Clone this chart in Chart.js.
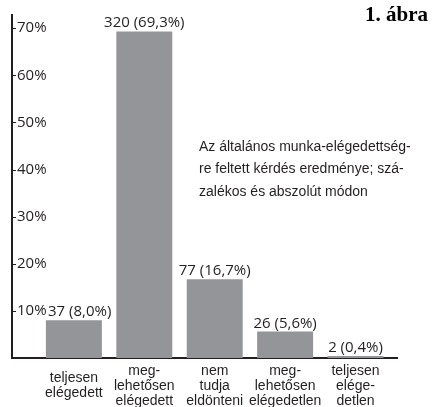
<!DOCTYPE html>
<html><head><meta charset="utf-8">
<script src="https://cdn.jsdelivr.net/npm/chart.js@4"></script>
<style>html,body{margin:0;padding:0;background:#fff}</style>
</head><body><canvas id="c" width="437" height="407"></canvas>
<script>
const categories = [
  ['teljesen', 'elégedett'],
  ['meg-', 'lehetősen', 'elégedett'],
  ['nem', 'tudja', 'eldönteni'],
  ['meg-', 'lehetősen', 'elégedetlen'],
  ['teljesen', 'elége-', 'detlen']
];
const counts = [37, 320, 77, 26, 2];
const percents = [8.0, 69.3, 16.7, 5.6, 0.4];
const yTickValues = [10, 20, 30, 40, 50, 60, 70];
const figureTitle = '1. ábra';
const noteLines = [
  'Az általános munka-elégedettség-',
  're feltett kérdés eredménye; szá-',
  'zalékos és abszolút módon'
];

const INK = '#231f20';
const BAR = '#939598';

const extraText = {
  id: 'extraText',
  afterDatasetsDraw(chart) {
    const ctx = chart.ctx;
    const meta = chart.getDatasetMeta(0);
    const ys = chart.scales.y;
    const area = chart.chartArea;
    ctx.save();
    // y tick marks (inside)
    ctx.strokeStyle = INK;
    ctx.lineWidth = 1;
    yTickValues.forEach(v => {
      const y = Math.round(ys.getPixelForValue(v)) + 0.5;
      ctx.beginPath();
      ctx.moveTo(area.left, y);
      ctx.lineTo(area.left + 4, y);
      ctx.stroke();
    });
    // data labels (kept clear of the y tick labels)
    ctx.fillStyle = INK;
    ctx.font = '15px "Open Sans"';
    ctx.textAlign = 'left';
    ctx.textBaseline = 'alphabetic';
    meta.data.forEach((el, i) => {
      const txt = counts[i] + ' (' + percents[i].toFixed(1).replace('.', ',') + '%)';
      const w = ctx.measureText(txt).width;
      const left = Math.max(el.x - w / 2, area.left + 36);
      ctx.fillText(txt, left, el.y - 4);
    });
    // note
    ctx.font = '14px "Liberation Sans"';
    ctx.textAlign = 'left';
    ctx.textBaseline = 'middle';
    noteLines.forEach((t, i) => ctx.fillText(t, 199, 147 + i * 22.5));
    // figure title
    ctx.font = 'bold 21px "Liberation Serif"';
    ctx.textAlign = 'right';
    ctx.fillStyle = '#000';
    ctx.fillText(figureTitle, 428, 16);
    ctx.restore();
  }
};

new Chart(document.getElementById('c'), {
  type: 'bar',
  data: {
    datasets: [{
      data: percents.map((p, i) => ({ x: i, y: p })),
      backgroundColor: BAR,
      borderWidth: 0,
      barPercentage: 0.795,
      categoryPercentage: 1.0
    }]
  },
  options: {
    responsive: false,
    animation: false,
    devicePixelRatio: 1,
    layout: { padding: { left: 10, right: 40, top: 15, bottom: 0 } },
    plugins: { legend: { display: false }, tooltip: { enabled: false }, title: { display: false } },
    scales: {
      x: {
        type: 'linear',
        min: -0.879,
        max: 4.589,
        offset: false,
        grid: { display: false, drawTicks: false },
        border: { display: true, color: INK, width: 2 },
        afterBuildTicks: s => { s.ticks = categories.map((c, i) => ({ value: i })); },
        afterFit: s => { s.height = 49; },
        ticks: {
          autoSkip: false,
          maxRotation: 0,
          minRotation: 0,
          padding: 13,
          crossAlign: 'center',
          color: INK,
          font: { family: '"Liberation Sans"', size: 14, lineHeight: 1.07 },
          callback: v => categories[v] || ''
        }
      },
      y: {
        min: 0,
        max: 72.8,
        grid: { display: false, drawTicks: false },
        border: { display: true, color: INK, width: 2 },
        afterBuildTicks: s => { s.ticks = yTickValues.map(v => ({ value: v })); },
        afterFit: s => { s.width = 2; },
        ticks: {
          mirror: true,
          padding: 5,
          color: INK,
          font: { family: '"Open Sans"', size: 15 },
          callback: v => v + '%'
        }
      }
    }
  },
  plugins: [extraText]
});
</script></body></html>
